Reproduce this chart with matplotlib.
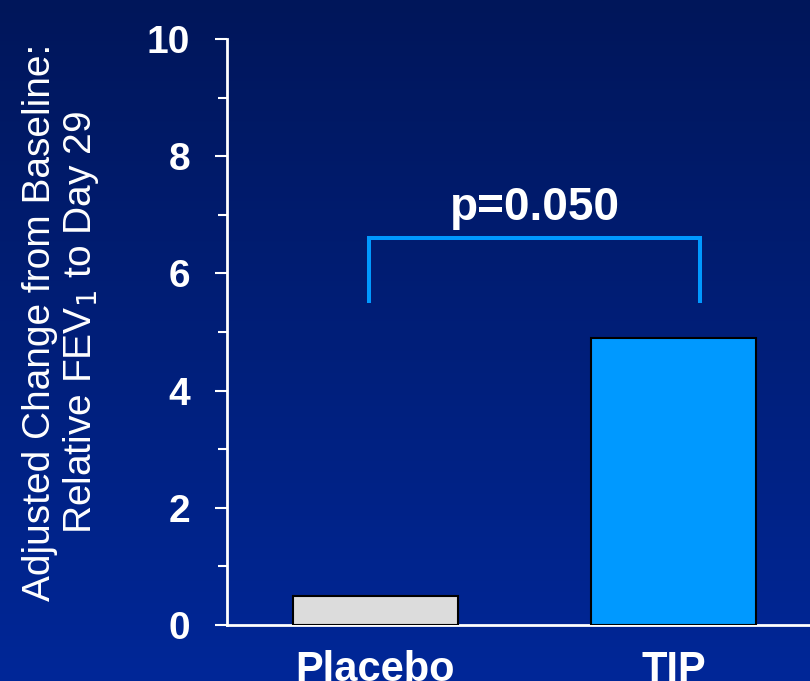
import numpy as np
import matplotlib
matplotlib.use("Agg")
import matplotlib.pyplot as plt

# bar data
groups = ["Placebo", "TIP"]
changes = [0.5, 4.9]
bar_colors = ["#DCDCDC", "#0099FF"]

# significance bracket
bracket_x = [-0.02, 1.09]
bracket_low = 5.5
bracket_high = 6.6
p_label = "p=0.050"

y_ticks = [0, 2, 4, 6, 8, 10]

plt.rcParams['font.family'] = ['Liberation Sans', 'DejaVu Sans']

fig = plt.figure(figsize=(8.1, 6.81), dpi=100)

# dark-to-bright blue gradient behind everything
bg = fig.add_axes([0, 0, 1, 1], zorder=-10)
top = np.array([0, 22, 90]) / 255
bottom = np.array([0, 39, 152]) / 255
t = np.linspace(0, 1, 256)[:, None]
grad = top + (bottom - top) * t
bg.imshow(grad[:, None, :].repeat(2, axis=1), aspect='auto', extent=[0, 1, 0, 1])
bg.axis('off')

ax = fig.add_axes([227 / 810, 56 / 681, 583 / 810, 586 / 681])
ax.patch.set_alpha(0)

x = np.arange(len(groups))
ax.bar(x, changes, width=0.554, color=bar_colors, edgecolor='black', linewidth=1.5, zorder=3)

ax.set_xlim(-0.498, 1.458)
ax.set_ylim(0, 10)

ax.set_yticks(y_ticks)
ax.set_yticks([1, 3, 5, 7, 9], minor=True)
ax.set_yticklabels([str(v) for v in y_ticks], fontsize=28, fontweight='bold', color='white')
ax.tick_params(axis='y', which='major', length=8.6, width=1.5, color='white', pad=18)
ax.tick_params(axis='y', which='minor', length=6.5, width=1.5, color='white')

ax.set_xticks(x)
ax.set_xticklabels(groups, fontsize=30, fontweight='bold', color='white')
ax.tick_params(axis='x', length=0, pad=18)

for side in ['top', 'right']:
    ax.spines[side].set_visible(False)
for side in ['left', 'bottom']:
    ax.spines[side].set_color('white')
    ax.spines[side].set_linewidth(2)

# bracket and p-value
ax.plot([bracket_x[0], bracket_x[0], bracket_x[1], bracket_x[1]],
        [bracket_low, bracket_high, bracket_high, bracket_low],
        color='#0099FF', linewidth=2.9, solid_capstyle='butt', solid_joinstyle='miter', zorder=4)
ax.text(sum(bracket_x) / 2, bracket_high + 0.31, p_label, ha='center', va='baseline',
        fontsize=33, fontweight='bold', color='white')

fig.text(0.0765, 0.527, "Adjusted Change from Baseline:\nRelative FEV$_1$ to Day 29",
         rotation=90, ha='center', va='center', multialignment='center',
         fontsize=28, color='white', linespacing=1.1)

fig.savefig("out.png", dpi=100)
